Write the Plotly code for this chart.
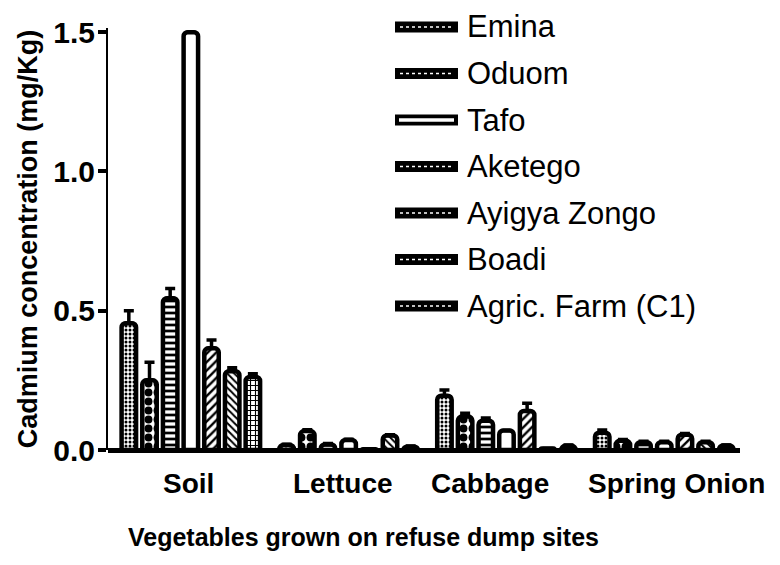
import plotly.graph_objects as go

# ---- data -------------------------------------------------------------
categories = ["Soil", "Lettuce", "Cabbage", "Spring Onion"]
sites = ["Emina", "Oduom", "Tafo", "Aketego", "Ayigya Zongo", "Boadi", "Agric. Farm (C1)"]

emina   = [0.455, 0.018, 0.195, 0.062]
oduom   = [0.250, 0.068, 0.120, 0.033]
tafo    = [0.545, 0.020, 0.105, 0.028]
aketego = [1.500, 0.036, 0.070, 0.028]
ayigya  = [0.365, 0.003, 0.140, 0.055]
boadi   = [0.283, 0.052, 0.005, 0.028]
agric   = [0.262, 0.012, 0.015, 0.016]

emina_err   = [0.045, 0.003, 0.020, 0.010]
oduom_err   = [0.065, 0.005, 0.012, 0.005]
tafo_err    = [0.035, 0.003, 0.010, 0.003]
aketego_err = [0.000, 0.003, 0.000, 0.003]
ayigya_err  = [0.030, 0.000, 0.028, 0.004]
boadi_err   = [0.012, 0.003, 0.000, 0.003]
agric_err   = [0.012, 0.002, 0.003, 0.002]

values = [emina, oduom, tafo, aketego, ayigya, boadi, agric]
errors = [emina_err, oduom_err, tafo_err, aketego_err, ayigya_err, boadi_err, agric_err]

y_ticks = [0.0, 0.5, 1.0, 1.5]

# ---- styles -----------------------------------------------------------
patterns = [
    dict(shape=".", size=4, solidity=0.45),
    dict(shape=".", size=9, solidity=0.6),
    dict(shape="-", size=6, solidity=0.45),
    dict(shape="", size=6, solidity=0.3),
    dict(shape="/", size=6, solidity=0.4),
    dict(shape="\\", size=5, solidity=0.4),
    dict(shape="+", size=5, solidity=0.4),
]
label_shift = [-2, -6, -16, 12]

FONT = "Liberation Sans, Arial, Helvetica, sans-serif"

OFF = 8                      # page body margin
W, H = 772, 557
ML, MR, MT, MB = 100, 40, 20, 115
PW, PH = W - ML - MR, H - MT - MB


def px_x(x):
    return (x - OFF - ML) / PW


def px_y(y):
    return (H - MB - (y - OFF)) / PH


fig = go.Figure()
for name, vals, errs, pat in zip(sites, values, errors, patterns):
    fig.add_trace(go.Bar(
        x=categories, y=vals, name=name, showlegend=False,
        marker=dict(color="white", line=dict(color="black", width=4.5),
                    cornerradius=4,
                    pattern=dict(fgcolor="black", bgcolor="white", fillmode="replace", **pat)),
        error_y=dict(type="data", symmetric=False, array=errs,
                     arrayminus=[0] * len(errs), color="black", thickness=3.5, width=5),
    ))

# ---- hand-drawn legend (wide swatches like the original) ---------------
row0, step = 27, 46.5
for i, name in enumerate(sites):
    yc = row0 + step * i
    fig.add_shape(type="rect", xref="paper", yref="paper",
                  x0=px_x(395), x1=px_x(458), y0=px_y(yc - 5.5), y1=px_y(yc + 5.5),
                  fillcolor="black", line=dict(width=0))
    if i == 2:
        fig.add_shape(type="rect", xref="paper", yref="paper",
                      x0=px_x(399), x1=px_x(454), y0=px_y(yc - 1.8), y1=px_y(yc + 1.8),
                      fillcolor="white", line=dict(width=0))
    else:
        fig.add_shape(type="line", xref="paper", yref="paper",
                      x0=px_x(400), x1=px_x(453), y0=px_y(yc), y1=px_y(yc),
                      line=dict(color="white", width=1.5, dash="dot"))
    fig.add_annotation(text=name, xref="paper", yref="paper",
                       x=px_x(465), y=px_y(yc), xanchor="left", yanchor="middle",
                       showarrow=False, font=dict(family=FONT, size=31, color="black"))

# category labels
for cat, sh in zip(categories, label_shift):
    fig.add_annotation(text=cat, xref="x", yref="paper", x=cat, y=px_y(483),
                       xshift=sh, xanchor="center", yanchor="middle", showarrow=False,
                       font=dict(family=FONT, size=28, color="black", weight="bold"))

fig.add_annotation(text="Vegetables grown on refuse dump sites", xref="paper", yref="paper",
                   x=px_x(363), y=px_y(537), xanchor="center", yanchor="middle",
                   showarrow=False,
                   font=dict(family=FONT, size=25, color="black", weight="bold"))

fig.update_layout(
    width=W, height=H,
    margin=dict(l=ML, r=MR, t=MT, b=MB, autoexpand=False),
    paper_bgcolor="white", plot_bgcolor="white",
    barmode="group", bargap=0.083, bargroupgap=0.30,
    font=dict(family=FONT, color="black"),
    xaxis=dict(type="category", range=[-0.525, 3.48], showline=False, ticks="",
               showgrid=False, zeroline=False, automargin=False,
               showticklabels=False),
    yaxis=dict(range=[0, 1.515], tickvals=y_ticks, tickformat=".1f", automargin=False,
               showline=True, linecolor="black", linewidth=2,
               ticks="outside", ticklen=8, tickwidth=4, tickcolor="black",
               showgrid=False, zeroline=True, zerolinecolor="black", zerolinewidth=5,
               tickfont=dict(family=FONT, size=30, color="black", weight="bold"),
               ticklabelstandoff=-3,
               title=dict(text="Cadmium concentration (mg/Kg)", standoff=8,
                          font=dict(family=FONT, size=27, color="black", weight="bold"))),
)

fig.write_html("out.html")
